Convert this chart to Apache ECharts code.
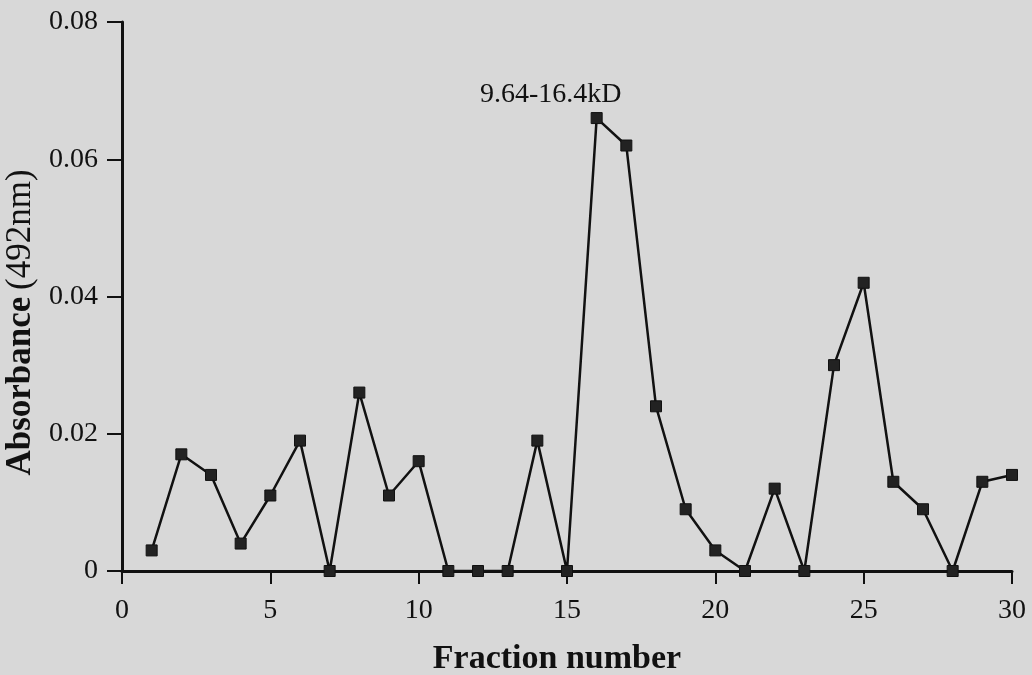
<!DOCTYPE html>
<html>
<head>
<meta charset="utf-8">
<script src="https://cdn.jsdelivr.net/npm/echarts@6/dist/echarts.min.js"></script>
<style>html,body{margin:0;padding:0;background:#d8d8d8;}#c{width:1032px;height:675px;}</style>
</head>
<body>
<div id="c"></div>
<script>
const fractions = [1,2,3,4,5,6,7,8,9,10,11,12,13,14,15,16,17,18,19,20,21,22,23,24,25,26,27,28,29,30];
const absorbance = [0.003,0.017,0.014,0.004,0.011,0.019,0,0.026,0.011,0.016,0,0,0,0.019,0,0.066,0.062,0.024,0.009,0.003,0,0.012,0,0.030,0.042,0.013,0.009,0,0.013,0.014];
const xTicks = [0,5,10,15,20,25,30];
const yTicks = [0,0.02,0.04,0.06,0.08];
const peakLabel = '9.64-16.4kD';
const peakIndex = 15;

const font = '"Liberation Serif", "DejaVu Serif", serif';
const chart = echarts.init(document.getElementById('c'));
chart.setOption({
  backgroundColor: '#d8d8d8',
  animation: false,
  grid: {left: 122, right: 20, top: 22, bottom: 104, outerBoundsMode: 'none', containLabel: false},
  xAxis: {
    type: 'value', min: 0, max: 30,
    name: 'Fraction number', nameLocation: 'middle', nameGap: 71,
    nameTextStyle: {fontFamily: font, fontSize: 34, fontWeight: 'bold', color: '#111', padding: [0, 20, 0, 0]},
    axisLine: {lineStyle: {color: '#111', width: 3}},
    axisTick: {show: true, customValues: xTicks, length: 13, lineStyle: {color: '#111', width: 2}},
    axisLabel: {customValues: xTicks, fontFamily: font, fontSize: 28, color: '#111', margin: 26},
    splitLine: {show: false}
  },
  yAxis: {
    type: 'value', min: 0, max: 0.08,
    name: '{b|Absorbance}  {n|(492nm)}', nameLocation: 'middle', nameGap: 73, nameRotate: 90,
    nameTextStyle: {padding: [0, 52, 0, 0], rich: {
      b: {fontFamily: font, fontSize: 35, fontWeight: 'bold', color: '#111'},
      n: {fontFamily: font, fontSize: 35, color: '#111'}
    }},
    axisLine: {show: true, lineStyle: {color: '#111', width: 3}},
    axisTick: {show: true, customValues: yTicks, length: 15, lineStyle: {color: '#111', width: 2}},
    axisLabel: {customValues: yTicks, fontFamily: font, fontSize: 28, color: '#111', margin: 24,
      formatter: v => v === 0 ? '0' : v.toFixed(2)},
    splitLine: {show: false}
  },
  series: [{
    type: 'line',
    data: fractions.map((f, i) => [f, absorbance[i]]),
    symbol: 'rect', symbolSize: 11,
    lineStyle: {color: '#111', width: 2.5},
    itemStyle: {color: '#222', borderColor: '#111', borderWidth: 1},
    label: {
      show: true,
      formatter: p => p.dataIndex === peakIndex ? peakLabel : '',
      position: 'top', offset: [-46, 2],
      fontFamily: font, fontSize: 28, color: '#111'
    }
  }]
});
</script>
</body>
</html>
